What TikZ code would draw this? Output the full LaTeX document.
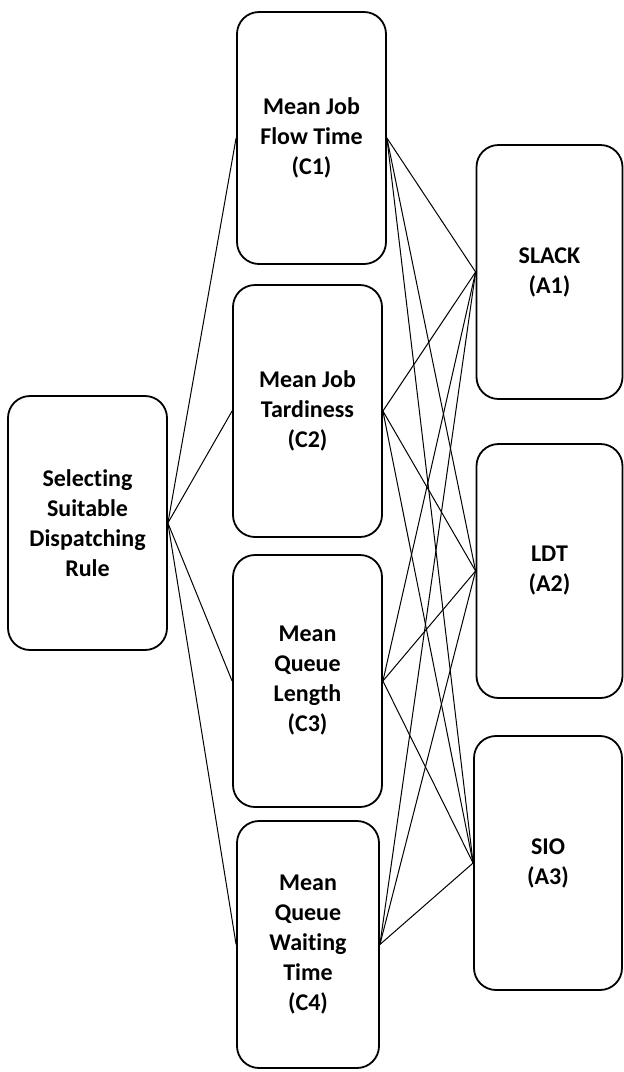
\documentclass[tikz,border=0pt]{standalone}
\usepackage{fontspec}
\setmainfont{Carlito}[Ligatures=CommonOff]
\usepackage{tikz}

\tikzset{
  box/.style={draw=black, line width=0.9pt, rounded corners=11pt, align=center,
    font=\bfseries\fontsize{12}{15}\selectfont, inner sep=0pt},
  goalbox/.style={box, minimum width=79.5pt, minimum height=127pt},
  critbox/.style={box, minimum width=74.5pt, minimum height=126pt},
  altbox/.style={box, minimum width=73pt, minimum height=127pt},
  link/.style={black, line width=0.5pt}
}

\begin{document}
\begin{tikzpicture}[x=0.5pt, y=-0.5pt]
    \useasboundingbox (0,0) rectangle (623,1072);

    % goal
    \node[goalbox] (goal) at (87.5,523) {Selecting\\Suitable\\Dispatching\\Rule};

    % criteria
    \node[critbox] (c1) at (311.5,138) {Mean Job\\Flow Time\\(C1)};
    \node[critbox] (c2) at (307.5,411) {Mean Job\\Tardiness\\(C2)};
    \node[critbox] (c3) at (307.5,681) {Mean\\Queue\\Length\\(C3)};
    \node[critbox, minimum width=71pt, minimum height=123.5pt] (c4) at (308,944.5)
      {Mean\\Queue\\Waiting\\Time\\(C4)};

    % alternatives
    \node[altbox] (a1) at (549.5,272) {SLACK\\(A1)};
    \node[altbox] (a2) at (549.5,571) {LDT\\(A2)};
    \node[altbox, minimum width=74pt] (a3) at (548,863) {SIO\\(A3)};

    % links
    \foreach \c in {c1,c2,c3,c4} {
      \draw[link] (goal.east) -- (\c.west);
      \foreach \a in {a1,a2,a3}
        \draw[link] (\c.east) -- (\a.west);
    }
\end{tikzpicture}
\end{document}
